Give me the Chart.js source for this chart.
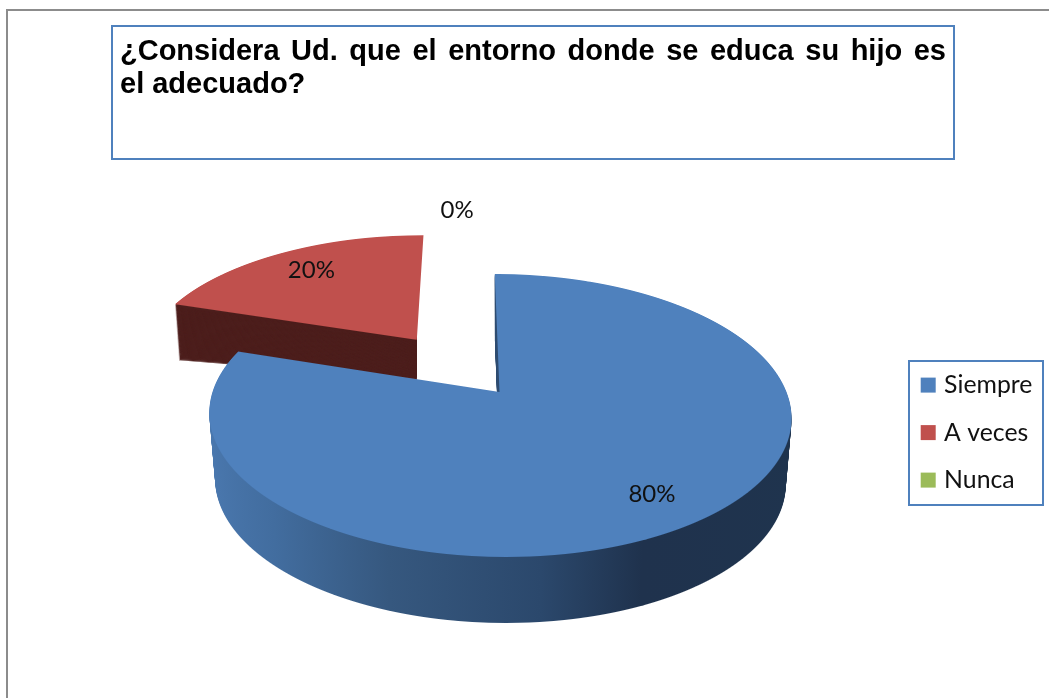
<!DOCTYPE html>
<html lang="es">
<head>
<meta charset="utf-8">
<script src="https://cdn.jsdelivr.net/npm/chart.js@4/dist/chart.umd.min.js"></script>
<style>
html,body{margin:0;padding:0;background:#fff;overflow:hidden;}
#stage{position:relative;width:1049px;height:698px;overflow:hidden;}
#frame{position:absolute;left:6px;top:9px;width:1100px;height:800px;border-left:2px solid #8c8c8c;border-top:2px solid #8c8c8c;}
#chart{position:absolute;left:0;top:0;}
#titleBox{position:absolute;left:111px;top:25px;width:844px;height:135px;box-sizing:border-box;border:2px solid #4f81bd;padding:7px 7px 0 7px;
font:bold 29px/33px "Liberation Sans",Arial,sans-serif;color:#000;}
#titleBox span{display:block;}
#titleBox .first{text-align:justify;text-align-last:justify;}
</style>
</head>
<body>
<div id="stage">
<div id="frame"></div>
<canvas id="chart" width="1049" height="698"></canvas>
<div id="titleBox"><span class="first">¿Considera Ud. que el entorno donde se educa su hijo es</span><span>el adecuado?</span></div>
</div>
<script>
const categories = ["Siempre", "A veces", "Nunca"];
const values = [80, 20, 0];
const colors = ["#4f81bd", "#c0504d", "#9bbb59"];
const wallColor = "#4d1f1d";

// Perspective view of the pie plane
const CX = 499.5, CY = 392, K = 0.166, A = 137.6, SC = 287, LEAN = 0.04;
const planeY = y => { const h = CY - y; return h / (A - K * h); };
const scaleAt = Y => SC / (1 + K * Y);
const project = (X, Y) => {
  const y = CY - A * Y / (1 + K * Y);
  return { x: CX + LEAN * (y - CY) + X * scaleAt(Y), y };
};

function paintSlice(ctx, arc, color, dX, dY, post) {
  const R = arc.outerRadius, ux = arc.x, vy = arc.y;
  const piece = Object.create(arc);
  piece.options = Object.assign({}, arc.options, { backgroundColor: color, borderWidth: 0 });
  const y0 = Math.floor(project(0, dY + 1).y) - 1;
  const y1 = Math.ceil(project(0, dY - 1).y) + 1;
  for (let y = y0; y < y1; y++) {
    const Yt = planeY(y), Yb = planeY(y + 1);
    if (1 + K * Yb <= 0) continue;
    const s = scaleAt((Yt + Yb) / 2);
    const cx = CX + LEAN * (y + 0.5 - CY);
    const a = s / R, d = 1 / (R * (Yt - Yb));
    const e = cx + s * dX - ux * a;
    const f = y + (Yt - dY - vy / R) / (Yt - Yb);
    ctx.save();
    ctx.setTransform(post[0], post[1], post[2], post[3], post[4], post[5]);
    ctx.beginPath();
    ctx.rect(0, y, 1049, 1);
    ctx.clip();
    ctx.transform(a, 0, 0, d, e, f);
    piece.draw(ctx);
    ctx.restore();
  }
}

const pie3d = {
  id: "pie3d",
  afterLayout(chart) {
    const l = chart.legend;
    l.left = 902; l.right = 1040; l.top = 350; l.bottom = 690;
  },
  beforeDatasetsDraw(chart) {
    const ctx = chart.ctx;
    const arcs = chart.getDatasetMeta(0).data;
    const blue = arcs[0], red = arcs[1];
    const I = [1, 0, 0, 1, 0, 0];

    // exploded slice
    const mid = (red.startAngle + red.endAngle) / 2;
    const ex = 0.51 * Math.cos(mid), ey = -0.5 * Math.sin(mid);
    const apexX = project(ex, ey).x;
    ctx.save();
    ctx.beginPath();
    ctx.rect(0, 0, apexX, 698);
    ctx.clip();
    for (let i = 56; i >= 1; i--) {
      const t = i / 56;
      paintSlice(ctx, red, wallColor, ex, ey, [1 - t * 0.0165, -t * 0.066, 0, 1, t * 418 * 0.0165, t * (40 + 418 * 0.066)]);
    }
    ctx.restore();
    paintSlice(ctx, red, colors[1], ex, ey, I);

    // main slice
    const R = blue.outerRadius;
    const wall = ctx.createLinearGradient(blue.x - R * 1.02, 0, blue.x + R * 1.02, 0);
    wall.addColorStop(0, "#4b79b0");
    wall.addColorStop(0.15, "#426d9f");
    wall.addColorStop(0.33, "#36587f");
    wall.addColorStop(0.55, "#2b486c");
    wall.addColorStop(0.7, "#1f324d");
    wall.addColorStop(1, "#1f344e");
    for (let i = 66; i >= 1; i--) {
      const t = i / 66;
      paintSlice(ctx, blue, wall, 0, 0, [1 - 0.02 * t, 0, 0, 1, 500 * 0.02 * t, 66 * t]);
    }
    paintSlice(ctx, blue, colors[0], 0, 0, I);
    return false;
  },
  afterDraw(chart) {
    const ctx = chart.ctx;
    const arcs = chart.getDatasetMeta(0).data;
    // legend frame
    ctx.save();
    ctx.strokeStyle = "#4f81bd";
    ctx.lineWidth = 2;
    ctx.strokeRect(909, 361, 134, 144);
    // value labels
    const place = [{ r: 0.82, ex: 0, nudge: -0.022 }, { r: 0.78, ex: 0.5, nudge: 0.004 }, { r: 1.19, ex: 0.5, nudge: -0.157 }];
    ctx.font = '24px Lato, "Open Sans", sans-serif';
    ctx.fillStyle = "#111";
    ctx.textAlign = "center";
    ctx.textBaseline = "middle";
    values.forEach((v, i) => {
      const m = (arcs[i].startAngle + arcs[i].endAngle) / 2;
      const c = Math.cos(m), s = -Math.sin(m), p = place[i];
      const P = project(c * (p.r + p.ex) + p.nudge, s * (p.r + p.ex));
      ctx.fillText(v + "%", P.x, P.y);
    });
    ctx.restore();
  }
};

new Chart(document.getElementById("chart"), {
  type: "pie",
  data: {
    labels: categories,
    datasets: [{ data: values, backgroundColor: colors, borderWidth: 0 }]
  },
  options: {
    responsive: false,
    animation: false,
    plugins: {
      title: { display: false },
      tooltip: { enabled: false },
      legend: {
        display: true,
        position: "right",
        align: "start",
        labels: {
          font: { family: 'Lato, "Open Sans", sans-serif', size: 24.8 },
          color: "#111",
          boxWidth: 7,
          boxHeight: 7,
          padding: 22.7,
          generateLabels(chart) {
            return Chart.overrides.pie.plugins.legend.labels.generateLabels(chart).map(item => {
              item.strokeStyle = item.fillStyle;
              item.lineWidth = 8;
              return item;
            });
          }
        }
      }
    }
  },
  plugins: [pie3d]
});
</script>
</body>
</html>
